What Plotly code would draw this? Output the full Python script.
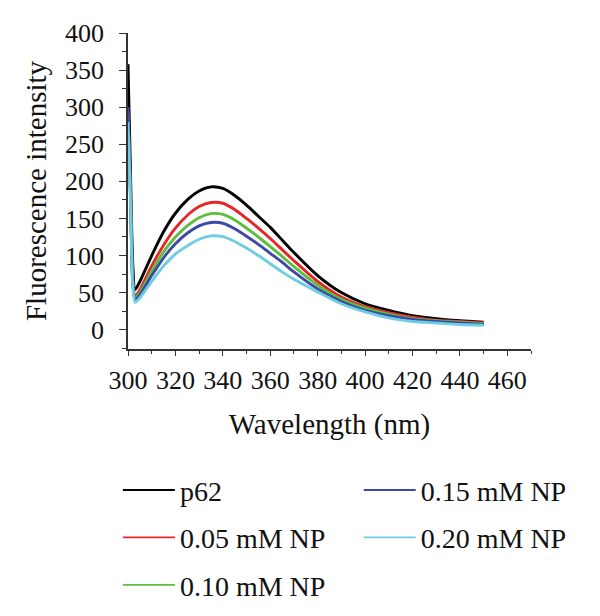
import plotly.graph_objects as go

wavelength = [300, 301, 302, 303, 305, 310, 315, 320, 325, 330, 335, 340, 345, 350,
              355, 360, 365, 370, 380, 390, 400, 410, 420, 430, 440, 450]

p62 =      [358, 220, 90, 54, 65, 100, 132, 157, 175, 187, 192.5, 190.5, 181, 168,
            153, 138, 121, 104, 73, 50, 35, 26, 19, 15, 12, 10]
np_005 =   [295, 190, 70, 45, 54, 86, 114, 137, 154, 166, 171.5, 170.5, 162, 150,
            137, 123, 108, 93, 65, 44, 31, 23, 17, 13, 11, 9]
np_010 =   [290, 185, 66, 42, 50, 79, 105, 125, 140, 151, 156.5, 155.5, 148, 137,
            125, 112, 99, 85, 60, 41, 29, 21, 15, 12, 10, 8]
np_015 =   [300, 190, 64, 40, 47, 73, 97, 116, 130, 140, 144.5, 143.5, 136, 126,
            115, 103, 91, 78, 55, 38, 26, 19, 14, 11, 9, 7]
np_020 =   [280, 180, 60, 37, 43, 65, 86, 102, 113, 122, 126.5, 125.5, 119, 110,
            100, 89, 78, 68, 51, 35, 24, 16, 11, 9, 7, 6]

series_names = ["p62", "0.05 mM NP", "0.10 mM NP", "0.15 mM NP", "0.20 mM NP"]
series_values = [p62, np_005, np_010, np_015, np_020]
series_colors = ["#000000", "#e8262a", "#5cbf3c", "#3b4aa6", "#6dcde2"]

x_ticks = [300, 320, 340, 360, 380, 400, 420, 440, 460]
y_ticks = [0, 50, 100, 150, 200, 250, 300, 350, 400]

SERIF = "Liberation Serif"

fig = go.Figure()
for name, vals, col in zip(series_names, series_values, series_colors):
    fig.add_trace(go.Scatter(x=wavelength, y=vals, mode="lines", name=name,
                             line=dict(color=col, width=2.9, shape="spline", smoothing=0.7),
                             showlegend=False, hoverinfo="skip"))

# legend entries (two columns)
for i, (name, col) in enumerate(zip(series_names, series_colors)):
    fig.add_trace(go.Scatter(x=[None], y=[None], mode="lines", name=name,
                             line=dict(color=col, width=1.8),
                             legend="legend" if i < 3 else "legend2",
                             legendgroup=name))

legend_common = dict(font=dict(family=SERIF, size=28, color="#111"),
                     bgcolor="rgba(0,0,0,0)", yanchor="top", xanchor="left",
                     orientation="v", tracegroupgap=8, itemwidth=52)

fig.update_layout(
    width=600, height=616,
    margin=dict(l=128, r=69, t=33, b=267, autoexpand=False),
    plot_bgcolor="white", paper_bgcolor="white",
    xaxis=dict(range=[300, 470], tickvals=x_ticks, ticks="outside", ticklen=5,
               tickwidth=1.3, tickcolor="#333", showline=True, linecolor="#333",
               linewidth=1.5, showgrid=False, zeroline=False, ticklabelstandoff=2,
               minor=dict(dtick=10, ticks="outside", ticklen=3, tickcolor="#333", tickwidth=1.2),
               tickfont=dict(family=SERIF, size=26, color="#111"),
               title=dict(text="Wavelength (nm)", font=dict(family=SERIF, size=29, color="#111"),
                          standoff=20)),
    yaxis=dict(range=[-26, 400], tickvals=y_ticks, ticks="outside", ticklen=7,
               tickwidth=1.3, tickcolor="#333", showline=True, linecolor="#333",
               linewidth=1.5, showgrid=False, zeroline=False, ticklabelstandoff=10,
               minor=dict(dtick=25, ticks="outside", ticklen=4, tickcolor="#333", tickwidth=1.2),
               tickfont=dict(family=SERIF, size=26, color="#111"),
               title=dict(text="Fluorescence intensity", font=dict(family=SERIF, size=29, color="#111"),
                          standoff=10)),
    legend=dict(x=-0.025, y=-0.368, **legend_common),
    legend2=dict(x=0.5725, y=-0.368, **legend_common),
)

fig.write_html("out.html")
